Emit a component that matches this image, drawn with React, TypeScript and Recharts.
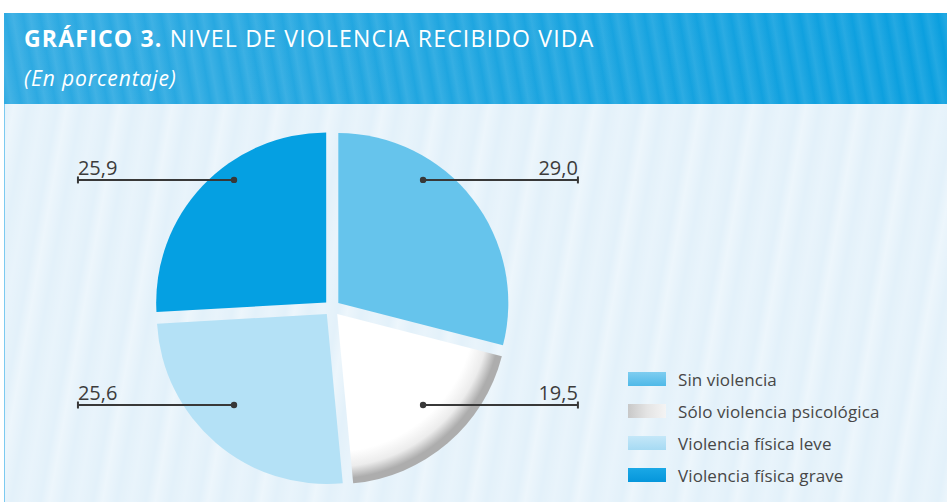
import React from 'react';
import { PieChart, Pie, Cell, Legend } from 'recharts';

const categories = ['Sin violencia', 'Sólo violencia psicológica', 'Violencia física leve', 'Violencia física grave'];
const values = [29.0, 19.5, 25.6, 25.9];
const valueLabels = ['29,0', '19,5', '25,6', '25,9'];
const sliceColors = ['#66c4ec', 'url(#psicGrad)', '#b4e1f6', '#05a0e2'];
const legendColors = [
  'linear-gradient(180deg,#7fcdf0,#4fb9e8)',
  'linear-gradient(90deg,#c8c8c8,#e4e4e4,#f4f4f4)',
  'linear-gradient(180deg,#c4e7f8,#a6daf3)',
  'linear-gradient(180deg,#1aa8e6,#0596db)',
];

const data = categories.map((name, i) => ({ name, value: values[i], label: valueLabels[i] }));

const W = 947;
const H = 502;
const CX = 327;
const CY = 303;
const R = 170;
const EXPLODE = 8;
const FONT = '"Open Sans", "Noto Sans", sans-serif';

const total = values.reduce((a, b) => a + b, 0);
const midFractions = values.map((v, i) => {
  const before = values.slice(0, i).reduce((a, b) => a + b, 0);
  return (before + v / 2) / total;
});
const offsets = midFractions.map((f) => {
  const a = f * 2 * Math.PI;
  return { dx: EXPLODE * Math.sin(a), dy: -EXPLODE * Math.cos(a) };
});

const makeLabel = (own: number) => (props: any) => {
  const { index, midAngle, payload } = props;
  if (index !== own) return null;
  const rad = (midAngle * Math.PI) / 180;
  const side = Math.cos(rad) >= 0 ? 1 : -1;
  const up = Math.sin(rad) > 0;
  const dotX = CX + side * (side > 0 ? 0.565 : 0.547) * R;
  const y = up ? CY - 0.724 * R : CY + 0.6 * R;
  const endX = CX + side * (side > 0 ? 1.476 : 1.465) * R;
  return (
    <g>
      <line x1={dotX} y1={y} x2={endX} y2={y} stroke="#383838" strokeWidth={2} />
      <line x1={endX} y1={y - 3.5} x2={endX} y2={y + 3.5} stroke="#383838" strokeWidth={2} />
      <circle cx={dotX} cy={y} r={3.2} fill="#383838" />
      <text
        x={endX}
        y={y - 5}
        textAnchor={side > 0 ? 'end' : 'start'}
        fontFamily={FONT}
        fontSize={20}
        fill="#3c3c3c"
      >
        {payload.label}
      </text>
    </g>
  );
};

const renderLegend = () => (
  <div style={{ fontFamily: FONT }}>
    {categories.map((c, i) => (
      <div key={c} style={{ display: 'flex', alignItems: 'center', height: 32 }}>
        <div style={{ width: 38, height: 14, background: legendColors[i], marginRight: 12 }} />
        <span style={{ fontSize: 17, color: '#474747', whiteSpace: 'nowrap', letterSpacing: 0.1 }}>{c}</span>
      </div>
    ))}
  </div>
);

export default function App() {
  return (
    <div style={{ position: 'absolute', left: 0, top: 0, width: W, height: H, background: '#ffffff', overflow: 'hidden' }}>
      <div
        style={{
          position: 'absolute',
          left: 4,
          top: 104,
          width: W - 4,
          height: H - 104,
          background:
            'repeating-linear-gradient(100deg, rgba(255,255,255,0) 0px, rgba(255,255,255,0.35) 9px, rgba(255,255,255,0) 23px, rgba(255,255,255,0.2) 37px, rgba(255,255,255,0) 52px), #e3f1fa',
          borderLeft: '1.5px solid #7ccaf0',
        }}
      />
      <div
        style={{
          position: 'absolute',
          left: 4,
          top: 13,
          width: W - 4,
          height: 91,
          background:
            'repeating-linear-gradient(80deg, rgba(255,255,255,0) 0px, rgba(255,255,255,0.1) 7px, rgba(255,255,255,0) 17px), linear-gradient(90deg, #2eaae2 0%, #20a6e0 45%, #0a9fdf 100%)',
        }}
      />
      <div
        style={{
          position: 'absolute',
          left: 24,
          top: 22,
          color: '#ffffff',
          fontFamily: FONT,
          fontSize: 23,
          whiteSpace: 'nowrap',
          letterSpacing: 1.2,
        }}
      >
        <b>GRÁFICO 3.</b> NIVEL DE VIOLENCIA RECIBIDO VIDA
      </div>
      <div
        style={{
          position: 'absolute',
          left: 24,
          top: 64,
          color: '#ffffff',
          fontFamily: FONT,
          fontSize: 21,
          fontStyle: 'italic',
          whiteSpace: 'nowrap',
          letterSpacing: 0.9,
        }}
      >
        (En porcentaje)
      </div>
      <div style={{ position: 'absolute', left: 0, top: 0 }}>
        <PieChart width={W} height={H}>
          <defs>
            <radialGradient
              id="psicGrad"
              gradientUnits="userSpaceOnUse"
              cx={CX + offsets[1].dx}
              cy={CY + offsets[1].dy}
              r={R}
            >
              <stop offset="0" stopColor="#ffffff" />
              <stop offset="0.84" stopColor="#ffffff" />
              <stop offset="0.93" stopColor="#ececec" />
              <stop offset="1" stopColor="#adadad" />
            </radialGradient>
          </defs>
          {values.map((_, own) => (
            <Pie
              key={own}
              data={data}
              dataKey="value"
              nameKey="name"
              cx={CX + offsets[own].dx}
              cy={CY + offsets[own].dy}
              outerRadius={R}
              innerRadius={0}
              startAngle={90}
              endAngle={-270}
              stroke="none"
              isAnimationActive={false}
              labelLine={false}
              label={makeLabel(own)}
            >
              {data.map((d, j) => (
                <Cell key={d.name} fill={j === own ? sliceColors[j] : 'none'} stroke="none" />
              ))}
            </Pie>
          ))}
          <Legend
            content={renderLegend}
            layout="vertical"
            wrapperStyle={{ position: 'absolute', left: 628, top: 363, width: 300, bottom: 'auto', right: 'auto' }}
          />
        </PieChart>
      </div>
    </div>
  );
}
